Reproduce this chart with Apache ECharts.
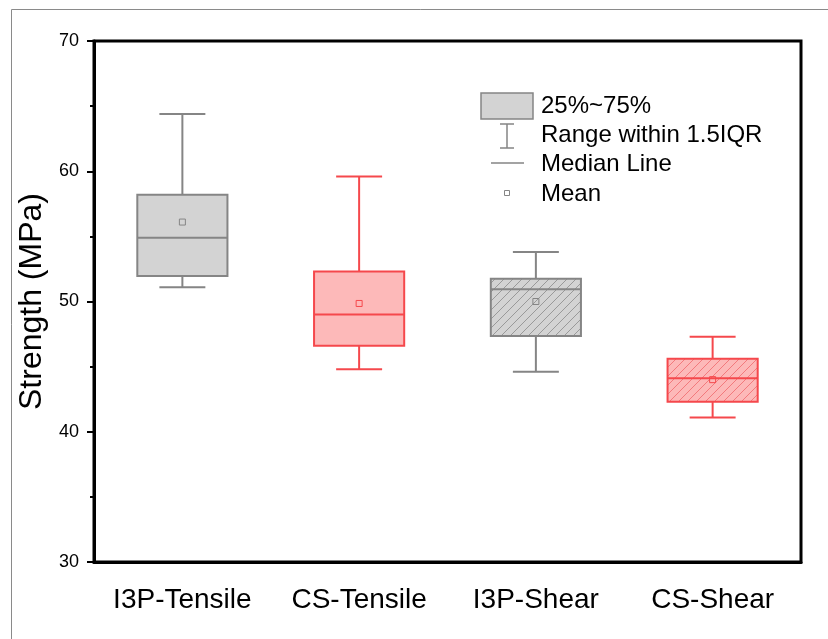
<!DOCTYPE html>
<html><head><meta charset="utf-8">
<script src="https://cdn.jsdelivr.net/npm/echarts@6/dist/echarts.min.js"></script>
<style>html,body{margin:0;padding:0;background:#fff}#c{width:828px;height:639px}</style>
</head><body><div id="c"></div>
<script>
// ---- data ----
const categories = ['I3P-Tensile', 'CS-Tensile', 'I3P-Shear', 'CS-Shear'];
const lowerWhisker = [51.1, 44.8, 44.6, 41.1];
const q1 = [51.95, 46.6, 47.35, 42.3];
const median = [54.9, 49.0, 50.95, 44.1];
const q3 = [58.2, 52.3, 51.75, 45.6];
const upperWhisker = [64.4, 59.6, 53.8, 47.3];
const mean = [56.1, 49.85, 50.0, 44.0];
const yTicks = [30, 40, 50, 60, 70];
const legendLabels = ['25%~75%', 'Range within 1.5IQR', 'Median Line', 'Mean'];

// ---- styles ----
const GREY = {fill: '#d3d3d3', stroke: '#858585'};
const RED = {fill: '#fdb9b9', stroke: '#f5484c'};
function hatch(bg, line) {
  const s = 9;
  const cv = document.createElement('canvas');
  cv.width = s; cv.height = s;
  const ctx = cv.getContext('2d');
  ctx.fillStyle = bg; ctx.fillRect(0, 0, s, s);
  ctx.strokeStyle = line; ctx.lineWidth = 0.8;
  ctx.beginPath();
  ctx.moveTo(-1, s + 1); ctx.lineTo(s + 1, -1);
  ctx.moveTo(-1, 1); ctx.lineTo(1, -1);
  ctx.moveTo(s - 1, s + 1); ctx.lineTo(s + 1, s - 1);
  ctx.stroke();
  return {image: cv, repeat: 'repeat'};
}
const boxStyles = [
  {fill: GREY.fill, stroke: GREY.stroke},
  {fill: RED.fill, stroke: RED.stroke},
  {fill: hatch(GREY.fill, '#8a8a8a'), stroke: GREY.stroke},
  {fill: hatch(RED.fill, '#f06a6d'), stroke: RED.stroke}
];

const seriesData = categories.map((c, i) => [i, lowerWhisker[i], q1[i], median[i], q3[i], upperWhisker[i], mean[i]]);

function renderItem(params, api) {
  const i = api.value(0);
  const st = boxStyles[i];
  const bw = api.size([1, 0])[0] * 0.51;
  const cw = bw * 0.51;
  const pMin = api.coord([i, api.value(1)]);
  const pQ1 = api.coord([i, api.value(2)]);
  const pMed = api.coord([i, api.value(3)]);
  const pQ3 = api.coord([i, api.value(4)]);
  const pMax = api.coord([i, api.value(5)]);
  const pMean = api.coord([i, api.value(6)]);
  const x = pMin[0];
  const ls = {stroke: st.stroke, lineWidth: 2, fill: null};
  const line = (x1, y1, x2, y2) => ({type: 'line', shape: {x1, y1, x2, y2}, style: ls});
  return {
    type: 'group',
    children: [
      line(x, pMax[1], x, pQ3[1]),
      line(x, pQ1[1], x, pMin[1]),
      line(x - cw / 2, pMax[1], x + cw / 2, pMax[1]),
      line(x - cw / 2, pMin[1], x + cw / 2, pMin[1]),
      {type: 'rect', shape: {x: x - bw / 2, y: pQ3[1], width: bw, height: pQ1[1] - pQ3[1]},
        style: {fill: st.fill, stroke: st.stroke, lineWidth: 2}},
      line(x - bw / 2, pMed[1], x + bw / 2, pMed[1]),
      {type: 'rect', shape: {x: x - 3, y: pMean[1] - 3, width: 6, height: 6},
        style: {fill: null, stroke: st.stroke, lineWidth: 1}}
    ]
  };
}

const FONT = 'Arial, "Liberation Sans", sans-serif';
const chart = echarts.init(document.getElementById('c'), null, {renderer: 'canvas'});
const lx = 541;
const LF = '24px ' + FONT;
chart.setOption({
  animation: false,
  backgroundColor: '#fff',
  grid: {left: 94, right: 27, top: 41, bottom: 77, show: true, borderColor: '#000', borderWidth: 3, backgroundColor: 'transparent'},
  xAxis: {
    type: 'category', data: categories, boundaryGap: true,
    axisLine: {lineStyle: {color: '#000', width: 3}},
    axisTick: {alignWithLabel: true, interval: 0, length: 6, lineStyle: {color: '#000', width: 2}},
    axisLabel: {interval: 0, hideOverlap: false, fontSize: 28, color: '#000', margin: 24, fontFamily: FONT},
    splitLine: {show: false}
  },
  yAxis: {
    type: 'value', min: yTicks[0], max: yTicks[yTicks.length - 1], interval: 10,
    name: 'Strength (MPa)', nameLocation: 'middle', nameGap: 42,
    nameTextStyle: {fontSize: 32, color: '#000', fontFamily: FONT},
    axisLine: {show: true, lineStyle: {color: '#000', width: 3}},
    axisTick: {show: true, inside: false, length: 7, lineStyle: {color: '#000', width: 2}},
    minorTick: {show: true, splitNumber: 2, length: 4, lineStyle: {color: '#000', width: 2}},
    axisLabel: {fontSize: 18, color: '#000', margin: 15, fontFamily: FONT},
    splitLine: {show: false}
  },
  series: [{
    type: 'custom', renderItem: renderItem, data: seriesData,
    encode: {x: 0, y: [1, 2, 3, 4, 5]}, clip: false
  }],
  graphic: [
    {type: 'rect', shape: {x: 11.5, y: 9.5, width: 1000, height: 1000}, style: {fill: null, stroke: '#8a8a8a', lineWidth: 1}, z: 100},
    {type: 'rect', shape: {x: 481, y: 93, width: 52, height: 26}, style: {fill: GREY.fill, stroke: GREY.stroke, lineWidth: 1.5}, z: 100},
    {type: 'text', x: lx, y: 106, style: {text: legendLabels[0], font: LF, fill: '#000', verticalAlign: 'middle'}, z: 100},
    {type: 'line', shape: {x1: 507, y1: 124, x2: 507, y2: 148}, style: {stroke: GREY.stroke, lineWidth: 1.5}, z: 100},
    {type: 'line', shape: {x1: 500, y1: 124, x2: 514, y2: 124}, style: {stroke: GREY.stroke, lineWidth: 1.5}, z: 100},
    {type: 'line', shape: {x1: 500, y1: 148, x2: 514, y2: 148}, style: {stroke: GREY.stroke, lineWidth: 1.5}, z: 100},
    {type: 'text', x: lx, y: 135, style: {text: legendLabels[1], font: LF, fill: '#000', verticalAlign: 'middle'}, z: 100},
    {type: 'line', shape: {x1: 491, y1: 163, x2: 524, y2: 163}, style: {stroke: GREY.stroke, lineWidth: 1.5}, z: 100},
    {type: 'text', x: lx, y: 164, style: {text: legendLabels[2], font: LF, fill: '#000', verticalAlign: 'middle'}, z: 100},
    {type: 'rect', shape: {x: 504.5, y: 190.5, width: 5, height: 5}, style: {fill: null, stroke: GREY.stroke, lineWidth: 1}, z: 100},
    {type: 'text', x: lx, y: 194, style: {text: legendLabels[3], font: LF, fill: '#000', verticalAlign: 'middle'}, z: 100}
  ]
});
</script>
</body></html>
